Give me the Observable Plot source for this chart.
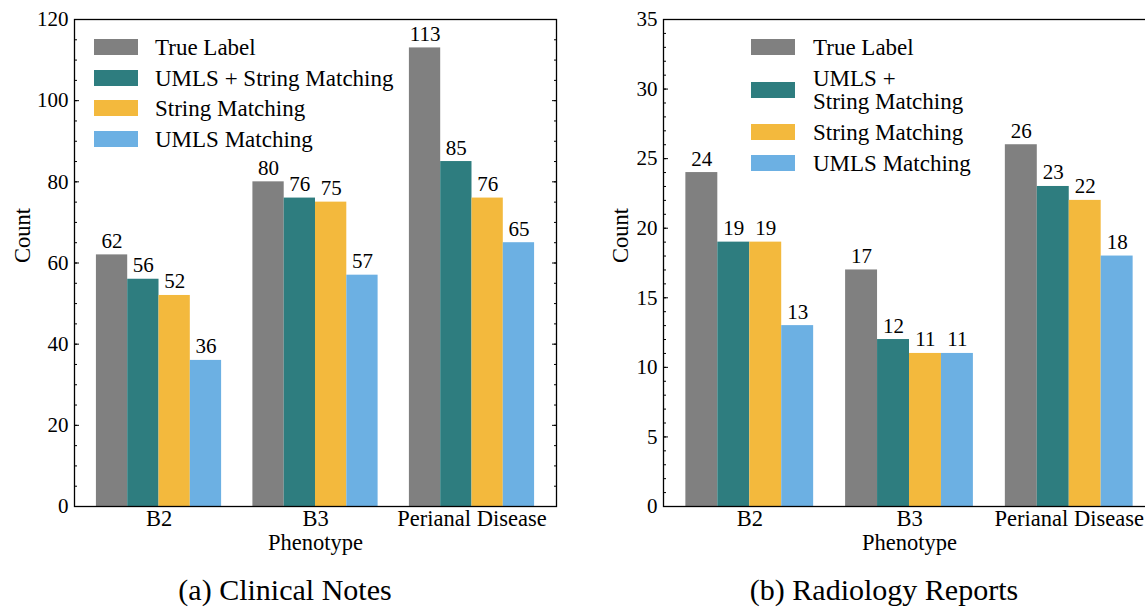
<!DOCTYPE html>
<html>
<head>
<meta charset="utf-8">
<script src="https://cdn.jsdelivr.net/npm/d3@7"></script>
<script src="https://cdn.jsdelivr.net/npm/@observablehq/plot@0.6"></script>
<style>
  body { margin: 0; padding: 0; background: #fff; }
  .panel { position: absolute; top: 0; }
  .caption { position: absolute; text-align: center; font-size: 30px; line-height: 1; white-space: nowrap; }
  .legend { position: absolute; top: 0; left: 0; font-size: 23px; }
  .legend .row { position: absolute; display: flex; align-items: center; white-space: nowrap; }
  .legend .swatch { width: 44px; height: 16px; flex: none; }
  .legend .label { line-height: 23px; white-space: nowrap; }
</style>
</head>
<body>
<div id="figure" style="position:relative;width:1145px;height:607px;overflow:hidden;color:#000;font-family:'Liberation Serif'"></div>
<script>
// Phenotype categories and extraction methods
const phenotypes = ["B2", "B3", "Perianal Disease"];
const methods = ["True Label", "UMLS + String Matching", "String Matching", "UMLS Matching"];
const methodColors = ["#808080", "#2e7d7f", "#f3b93d", "#6cb0e3"];

// (a) Clinical notes counts, one array per method (B2, B3, Perianal Disease)
const clinicalTrueLabel = [62, 80, 113];
const clinicalUmlsString = [56, 76, 85];
const clinicalString = [52, 75, 76];
const clinicalUmls = [36, 57, 65];

// (b) Radiology report counts
const radiologyTrueLabel = [24, 17, 26];
const radiologyUmlsString = [19, 12, 23];
const radiologyString = [19, 11, 22];
const radiologyUmls = [13, 11, 18];

// Axis ticks
const clinicalTicks = [0, 20, 40, 60, 80, 100, 120];
const clinicalMinorTicks = d3.range(0, 121, 5);
const radiologyTicks = [0, 5, 10, 15, 20, 25, 30, 35];
const radiologyMinorTicks = d3.range(0, 36, 1);

const barWidth = 0.2;
const serif = "'Liberation Serif'";

function toRows(series) {
  const rows = [];
  series.forEach((values, k) => {
    values.forEach((value, i) => {
      rows.push({i, k, phenotype: phenotypes[i], method: methods[k], value});
    });
  });
  return rows;
}

function barCenter(d) {
  return d.i + (d.k - (methods.length - 1) / 2) * barWidth;
}

function drawPanel({rows, ticks, minorTicks, width, marginLeft, marginRight, countDx}) {
  const height = 607;
  return Plot.plot({
    width,
    height,
    marginLeft,
    marginRight,
    marginTop: 19,
    marginBottom: height - 506,
    style: {fontFamily: serif, fontSize: "21px", color: "#000", background: "transparent", overflow: "visible"},
    x: {domain: [-0.54, 2.54]},
    y: {domain: [ticks[0], ticks[ticks.length - 1]]},
    color: {domain: methods, range: methodColors},
    marks: [
      Plot.rect(rows, {
        x1: d => barCenter(d) - barWidth / 2,
        x2: d => barCenter(d) + barWidth / 2,
        y1: 0,
        y2: "value",
        fill: "method"
      }),
      Plot.text(rows, {
        x: barCenter,
        y: "value",
        text: d => String(d.value),
        lineAnchor: "bottom",
        dy: -7,
        fontSize: 21,
        fontFamily: serif
      }),
      // minor and major ticks, pointing inward on both sides
      Plot.axisY({anchor: "left", ticks: minorTicks, tickSize: -3, tickFormat: () => "", label: null}),
      Plot.axisY({anchor: "right", ticks: minorTicks, tickSize: -3, tickFormat: () => "", label: null}),
      Plot.axisY({anchor: "right", ticks, tickSize: -5, tickFormat: () => "", label: null}),
      Plot.axisY({anchor: "left", ticks, tickSize: -5, tickPadding: 11, tickFormat: d => String(d), label: null, fontSize: 21, fontFamily: serif}),
      Plot.axisX({ticks: [0, 1, 2], tickSize: 0, tickPadding: 4, tickFormat: i => phenotypes[i], label: null, fontSize: 22.5, fontFamily: serif}),
      Plot.frame({stroke: "#000", strokeWidth: 1.3}),
      Plot.text(["Count"], {text: d => d, frameAnchor: "left", rotate: -90, dx: countDx, fontSize: 22.5, fontFamily: serif}),
      Plot.text(["Phenotype"], {text: d => d, frameAnchor: "bottom", lineAnchor: "bottom", dy: 43, fontSize: 22.5, fontFamily: serif})
    ]
  });
}

function drawLegend(container, left, textLeft, rowCenters, labels) {
  const legend = document.createElement("div");
  legend.className = "legend";
  legend.style.fontFamily = serif;
  methods.forEach((m, k) => {
    const row = document.createElement("div");
    row.className = "row";
    row.style.left = left + "px";
    row.style.top = (rowCenters[k] - 30) + "px";
    row.style.height = "60px";
    const sw = document.createElement("div");
    sw.className = "swatch";
    sw.style.background = methodColors[k];
    sw.style.marginRight = (textLeft - left - 44) + "px";
    const lab = document.createElement("div");
    lab.className = "label";
    lab.style.fontFamily = serif;
    lab.innerHTML = labels[k].join("<br>");
    row.appendChild(sw);
    row.appendChild(lab);
    legend.appendChild(row);
  });
  container.appendChild(legend);
}

const figure = document.getElementById("figure");

// Panel (a)
const clinical = drawPanel({
  rows: toRows([clinicalTrueLabel, clinicalUmlsString, clinicalString, clinicalUmls]),
  ticks: clinicalTicks,
  minorTicks: clinicalMinorTicks,
  width: 580,
  marginLeft: 74,
  marginRight: 24,
  countDx: -52
});
clinical.classList.add("panel");
clinical.style.left = "0px";
figure.appendChild(clinical);

// Panel (b)
const radiology = drawPanel({
  rows: toRows([radiologyTrueLabel, radiologyUmlsString, radiologyString, radiologyUmls]),
  ticks: radiologyTicks,
  minorTicks: radiologyMinorTicks,
  width: 600,
  marginLeft: 83,
  marginRight: 25,
  countDx: -43
});
radiology.classList.add("panel");
radiology.style.left = "580px";
figure.appendChild(radiology);

// Legends inside each frame
drawLegend(figure, 94, 155, [47, 78, 108, 139], methods.map(m => [m]));
drawLegend(figure, 751, 813, [47, 90, 132, 163],
  methods.map(m => m === "UMLS + String Matching" ? ["UMLS +", "String Matching"] : [m]));

// Captions
function caption(text, center) {
  const c = document.createElement("div");
  c.className = "caption";
  c.style.fontFamily = serif;
  c.textContent = text;
  c.style.left = (center - 200) + "px";
  c.style.width = "400px";
  c.style.top = "575px";
  figure.appendChild(c);
}
caption("(a) Clinical Notes", 285);
caption("(b) Radiology Reports", 884);
</script>
</body>
</html>
